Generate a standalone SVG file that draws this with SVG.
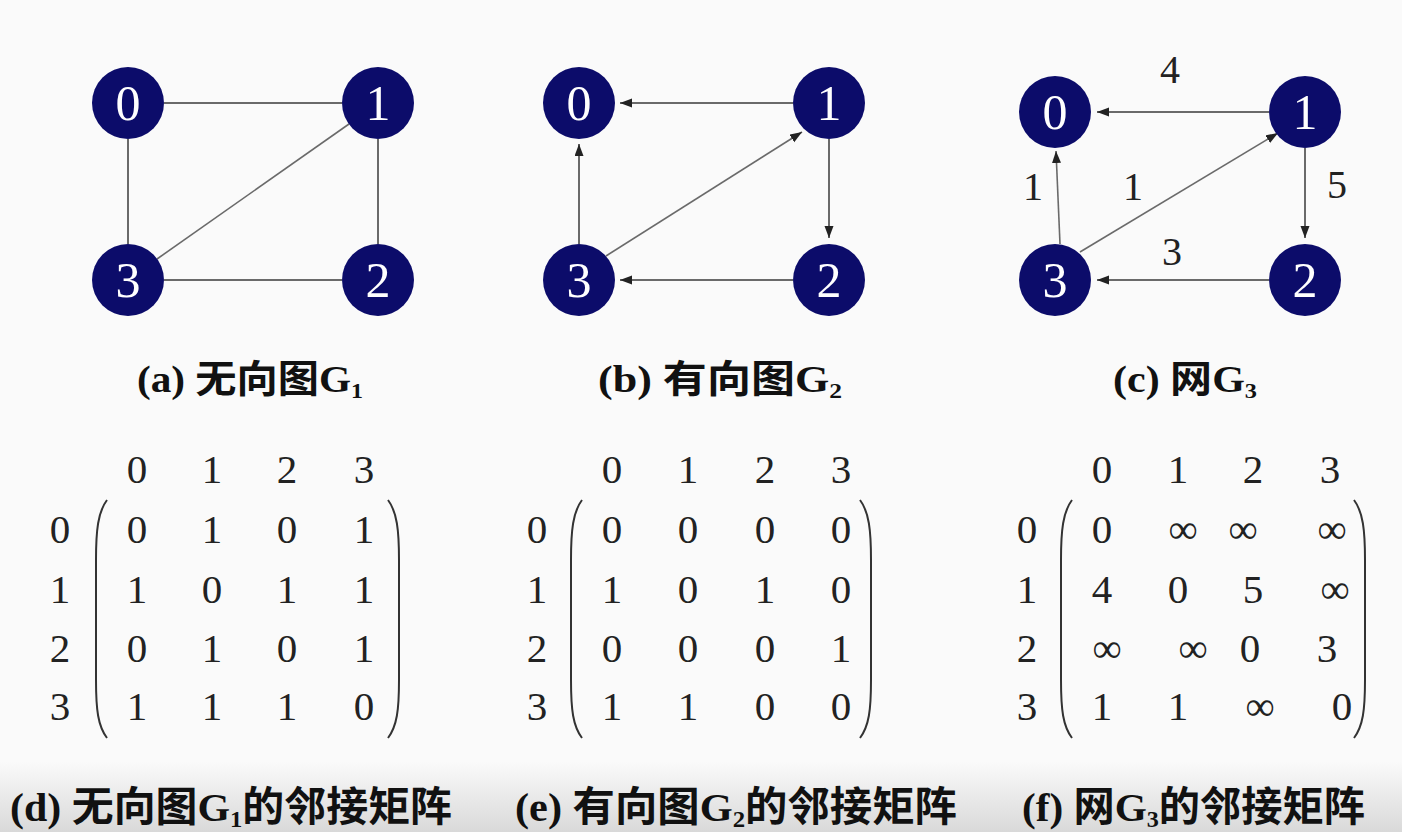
<svg xmlns="http://www.w3.org/2000/svg" width="1402" height="832" viewBox="0 0 1402 832">
<style>
.bg{fill:#fafafa}
.node circle{fill:#0c0c6a}
.node text{fill:#ffffff;font-family:"Liberation Serif",serif;font-size:50px;text-anchor:middle}
.edge{stroke:#6a6a6a;stroke-width:2;fill:none}
.thin{stroke-width:1.6}
.wl{fill:#222;font-family:"Liberation Serif",serif;font-size:40px;text-anchor:middle}
.mx{fill:#222;font-family:"Liberation Serif",serif;font-size:41px;text-anchor:middle}
.par{stroke:#333;stroke-width:2;fill:none}
.cap{fill:#111}
.lat{font-family:"Liberation Serif",serif;font-weight:bold}
.cjk{font-family:"Noto Sans CJK SC","Noto Sans CJK JP",sans-serif;font-weight:bold}
</style>
<defs>
<linearGradient id="band" x1="0" y1="0" x2="0" y2="1">
<stop offset="0" stop-color="#fafafa"/>
<stop offset="1" stop-color="#d9d9d9"/>
</linearGradient>
<marker id="ah" markerUnits="userSpaceOnUse" markerWidth="14" markerHeight="10" refX="12" refY="4.5" orient="auto">
<path d="M0,0 L12,4.5 L0,9 z" fill="#222"/>
</marker>
</defs>
<rect class="bg" x="0" y="0" width="1402" height="832"/>
<rect x="0" y="762" width="1402" height="70" fill="url(#band)"/>

<g id="connectors">
<!-- (a) -->
<line class="edge" x1="164" y1="103" x2="342" y2="103"/>
<line class="edge" x1="128" y1="139" x2="128" y2="244"/>
<line class="edge" x1="378" y1="139" x2="378" y2="244"/>
<line class="edge" x1="164" y1="280" x2="342" y2="280"/>
<line class="edge thin" x1="157" y1="259" x2="349" y2="124"/>
<!-- (b) -->
<line class="edge" x1="793" y1="103" x2="620" y2="103" marker-end="url(#ah)"/>
<line class="edge" x1="829" y1="139" x2="829" y2="238" marker-end="url(#ah)"/>
<line class="edge" x1="793" y1="280" x2="620" y2="280" marker-end="url(#ah)"/>
<line class="edge" x1="579" y1="244" x2="579" y2="144" marker-end="url(#ah)"/>
<line class="edge thin" x1="606" y1="256" x2="802" y2="132" marker-end="url(#ah)"/>
<!-- (c) -->
<line class="edge" x1="1269" y1="112" x2="1097" y2="112" marker-end="url(#ah)"/>
<line class="edge" x1="1305" y1="148" x2="1305" y2="238" marker-end="url(#ah)"/>
<line class="edge" x1="1269" y1="280" x2="1097" y2="280" marker-end="url(#ah)"/>
<line class="edge thin" x1="1060" y1="244" x2="1056" y2="151" marker-end="url(#ah)"/>
<line class="edge thin" x1="1080" y1="252" x2="1278" y2="133" marker-end="url(#ah)"/>
<text class="wl" x="1170" y="83">4</text>
<text class="wl" x="1033" y="200">1</text>
<text class="wl" x="1133" y="200">1</text>
<text class="wl" x="1337" y="198">5</text>
<text class="wl" x="1172" y="265">3</text>
</g>

<g id="a0" class="node"><circle cx="128" cy="103" r="36"/><text x="128" y="120">0</text></g>
<g id="a1" class="node"><circle cx="378" cy="103" r="36"/><text x="378" y="120">1</text></g>
<g id="a2" class="node"><circle cx="378" cy="280" r="36"/><text x="378" y="297">2</text></g>
<g id="a3" class="node"><circle cx="128" cy="280" r="36"/><text x="128" y="297">3</text></g>

<g id="b0" class="node"><circle cx="579" cy="103" r="36"/><text x="579" y="120">0</text></g>
<g id="b1" class="node"><circle cx="829" cy="103" r="36"/><text x="829" y="120">1</text></g>
<g id="b2" class="node"><circle cx="829" cy="280" r="36"/><text x="829" y="297">2</text></g>
<g id="b3" class="node"><circle cx="579" cy="280" r="36"/><text x="579" y="297">3</text></g>

<g id="c0" class="node"><circle cx="1055" cy="112" r="36"/><text x="1055" y="129">0</text></g>
<g id="c1" class="node"><circle cx="1305" cy="112" r="36"/><text x="1305" y="129">1</text></g>
<g id="c2" class="node"><circle cx="1305" cy="280" r="36"/><text x="1305" y="297">2</text></g>
<g id="c3" class="node"><circle cx="1055" cy="280" r="36"/><text x="1055" y="297">3</text></g>

<g id="captions">
<text class="cap" x="137" y="392" font-size="38" textLength="226" lengthAdjust="spacingAndGlyphs"><tspan class="lat">(a) </tspan><tspan class="cjk">无向图</tspan><tspan class="lat">G</tspan><tspan class="lat" font-size="22" dy="6">1</tspan></text>
<text class="cap" x="598" y="392" font-size="38" textLength="244" lengthAdjust="spacingAndGlyphs"><tspan class="lat">(b) </tspan><tspan class="cjk">有向图</tspan><tspan class="lat">G</tspan><tspan class="lat" font-size="22" dy="6">2</tspan></text>
<text class="cap" x="1113" y="392" font-size="38" textLength="144" lengthAdjust="spacingAndGlyphs"><tspan class="lat">(c) </tspan><tspan class="cjk">网</tspan><tspan class="lat">G</tspan><tspan class="lat" font-size="22" dy="6">3</tspan></text>
<text class="cap" x="10" y="821" font-size="41" textLength="442" lengthAdjust="spacingAndGlyphs"><tspan class="lat">(d) </tspan><tspan class="cjk">无向图</tspan><tspan class="lat">G</tspan><tspan class="lat" font-size="24" dy="6">1</tspan><tspan class="cjk" dy="-6">的邻接矩阵</tspan></text>
<text class="cap" x="515" y="821" font-size="41" textLength="442" lengthAdjust="spacingAndGlyphs"><tspan class="lat">(e) </tspan><tspan class="cjk">有向图</tspan><tspan class="lat">G</tspan><tspan class="lat" font-size="24" dy="6">2</tspan><tspan class="cjk" dy="-6">的邻接矩阵</tspan></text>
<text class="cap" x="1022" y="821" font-size="41" textLength="343" lengthAdjust="spacingAndGlyphs"><tspan class="lat">(f) </tspan><tspan class="cjk">网</tspan><tspan class="lat">G</tspan><tspan class="lat" font-size="24" dy="6">3</tspan><tspan class="cjk" dy="-6">的邻接矩阵</tspan></text>
</g>

<g id="matrix-d">
<text class="mx" x="137" y="483">0</text><text class="mx" x="212" y="483">1</text><text class="mx" x="287" y="483">2</text><text class="mx" x="364" y="483">3</text>
<text class="mx" x="60" y="543">0</text><text class="mx" x="60" y="603">1</text><text class="mx" x="60" y="662">2</text><text class="mx" x="60" y="720">3</text>
<path class="par" d="M107,500 C98,512 96,530 96,560 L96,680 C96,710 98,726 107,738"/>
<path class="par" d="M388,500 C397,512 399,530 399,560 L399,680 C399,710 397,726 388,738"/>
<text class="mx" x="137" y="543">0</text><text class="mx" x="212" y="543">1</text><text class="mx" x="287" y="543">0</text><text class="mx" x="364" y="543">1</text>
<text class="mx" x="137" y="603">1</text><text class="mx" x="212" y="603">0</text><text class="mx" x="287" y="603">1</text><text class="mx" x="364" y="603">1</text>
<text class="mx" x="137" y="662">0</text><text class="mx" x="212" y="662">1</text><text class="mx" x="287" y="662">0</text><text class="mx" x="364" y="662">1</text>
<text class="mx" x="137" y="720">1</text><text class="mx" x="212" y="720">1</text><text class="mx" x="287" y="720">1</text><text class="mx" x="364" y="720">0</text>
</g>

<g id="matrix-e">
<text class="mx" x="612" y="483">0</text><text class="mx" x="688" y="483">1</text><text class="mx" x="765" y="483">2</text><text class="mx" x="841" y="483">3</text>
<text class="mx" x="537" y="543">0</text><text class="mx" x="537" y="603">1</text><text class="mx" x="537" y="662">2</text><text class="mx" x="537" y="720">3</text>
<path class="par" d="M582,500 C573,512 571,530 571,560 L571,680 C571,710 573,726 582,738"/>
<path class="par" d="M860,500 C869,512 871,530 871,560 L871,680 C871,710 869,726 860,738"/>
<text class="mx" x="612" y="543">0</text><text class="mx" x="688" y="543">0</text><text class="mx" x="765" y="543">0</text><text class="mx" x="841" y="543">0</text>
<text class="mx" x="612" y="603">1</text><text class="mx" x="688" y="603">0</text><text class="mx" x="765" y="603">1</text><text class="mx" x="841" y="603">0</text>
<text class="mx" x="612" y="662">0</text><text class="mx" x="688" y="662">0</text><text class="mx" x="765" y="662">0</text><text class="mx" x="841" y="662">1</text>
<text class="mx" x="612" y="720">1</text><text class="mx" x="688" y="720">1</text><text class="mx" x="765" y="720">0</text><text class="mx" x="841" y="720">0</text>
</g>

<g id="matrix-f">
<text class="mx" x="1102" y="483">0</text><text class="mx" x="1178" y="483">1</text><text class="mx" x="1253" y="483">2</text><text class="mx" x="1330" y="483">3</text>
<text class="mx" x="1027" y="543">0</text><text class="mx" x="1027" y="603">1</text><text class="mx" x="1027" y="662">2</text><text class="mx" x="1027" y="720">3</text>
<path class="par" d="M1072,500 C1063,512 1061,530 1061,560 L1061,680 C1061,710 1063,726 1072,738"/>
<path class="par" d="M1354,500 C1363,512 1365,530 1365,560 L1365,680 C1365,710 1363,726 1354,738"/>
<text class="mx" x="1102" y="543">0</text><text class="mx" x="1183" y="543">∞</text><text class="mx" x="1243" y="543">∞</text><text class="mx" x="1332" y="543">∞</text>
<text class="mx" x="1102" y="603">4</text><text class="mx" x="1178" y="603">0</text><text class="mx" x="1253" y="603">5</text><text class="mx" x="1335" y="603">∞</text>
<text class="mx" x="1107" y="662">∞</text><text class="mx" x="1193" y="662">∞</text><text class="mx" x="1250" y="662">0</text><text class="mx" x="1327" y="662">3</text>
<text class="mx" x="1102" y="720">1</text><text class="mx" x="1178" y="720">1</text><text class="mx" x="1260" y="720">∞</text><text class="mx" x="1342" y="720">0</text>
</g>
</svg>
